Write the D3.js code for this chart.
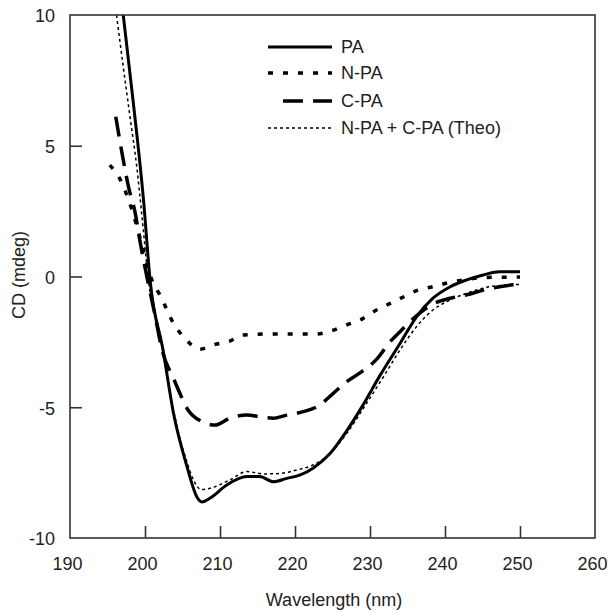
<!DOCTYPE html>
<html><head><meta charset="utf-8">
<script src="https://cdn.jsdelivr.net/npm/d3@7"></script>
<style>body{margin:0;background:#fff}svg{display:block}text{font-family:"Liberation Sans",Arial,sans-serif;fill:#222}</style>
</head><body><svg id="c" width="608" height="613"></svg>
<script>
const xTicks=[190,200,210,220,230,240,250,260];
const yTicks=[-10,-5,0,5,10];
const seriesNames=["PA","N-PA","C-PA","N-PA + C-PA (Theo)"];
const wlPA=[197.1,198.4,199.8,200.7,202.4,203.8,205.6,206.9,207.6,208.7,210.9,213.6,215.3,217.1,218.9,220.7,222.4,224.7,226.9,229.1,231.3,234,236.2,238.4,240.7,242.9,245.1,247.3,250];
const cdPA=[10,6.75,2.93,-0.2,-2.81,-5.23,-7.27,-8.42,-8.62,-8.47,-7.97,-7.65,-7.65,-7.85,-7.72,-7.59,-7.33,-6.76,-5.9,-4.9,-3.8,-2.56,-1.54,-0.83,-0.39,-0.13,0.06,0.18,0.18];
const wlN=[195.3,196.6,198.2,199.8,201,202,203.8,205.3,207.3,209.3,211.3,213.1,216.7,218.9,222.9,224.9,226.9,228.7,230.7,232.7,234.7,236.4,238.4,240.4,242.9,246.2,248.2,250];
const cdN=[4.26,3.76,2.6,1.0,-0.2,-0.71,-1.79,-2.36,-2.78,-2.6,-2.47,-2.24,-2.2,-2.2,-2.2,-2.07,-1.85,-1.66,-1.31,-1.03,-0.75,-0.52,-0.39,-0.24,-0.11,-0.03,-0.03,-0.02];
const wlC=[196.1,197.1,197.8,198.7,199.3,200.1,201.2,202.4,203.8,204.7,205.6,207.6,209.3,211.3,213.6,215.3,217.1,218.9,221.1,223.1,225.1,226.9,228.9,230.9,232.7,234,236.2,238.4,240.7,242.9,245.1,247.3,250];
const cdC=[6.11,4.46,3.43,2.42,1.4,0.2,-1.3,-2.94,-3.9,-4.5,-5.04,-5.55,-5.68,-5.42,-5.3,-5.36,-5.42,-5.3,-5.17,-4.95,-4.47,-4.02,-3.64,-3.16,-2.49,-2.11,-1.5,-1.05,-0.83,-0.7,-0.52,-0.39,-0.29];
const wlT=[196.2,197.1,198,198.9,199.6,200.4,202.4,203.8,205.6,206.5,207.5,208.7,211.3,213.6,215.8,218,220.2,222.4,224.7,226.9,229.1,231.8,234,236.2,238.4,240.7,242.9,246,248.7,250];
const cdT=[10,8.02,6.11,4.2,2.29,0,-2.7,-5.1,-7.1,-7.8,-8.15,-8.1,-7.78,-7.46,-7.55,-7.53,-7.4,-7.21,-6.76,-6.0,-5.05,-3.83,-2.81,-1.92,-1.28,-0.9,-0.64,-0.39,-0.32,-0.3];

const L=70,R=595,T=15,B=538;
const x=d3.scaleLinear().domain([190,260]).range([L,R]);
const y=d3.scaleLinear().domain([-10,10]).range([B,T]);
const svg=d3.select("#c");
svg.append("defs").append("clipPath").attr("id","clip").append("rect")
  .attr("x",L).attr("y",T).attr("width",R-L).attr("height",B-T);

const styles=[
 {w:3,dash:null},
 {w:3.5,dash:"5,10"},
 {w:3.5,dash:"20,10"},
 {w:1.5,dash:"3,3"}
];
const data=[[wlPA,cdPA],[wlN,cdN],[wlC,cdC],[wlT,cdT]];
const line=d3.line().x(d=>x(d[0])).y(d=>y(d[1])).curve(d3.curveMonotoneX);
const g=svg.append("g").attr("clip-path","url(#clip)");
data.forEach((s,i)=>{
  const pts=s[0].map((w,j)=>[w,s[1][j]]);
  g.append("path").attr("d",line(pts)).attr("fill","none").attr("stroke","#000")
   .attr("stroke-width",styles[i].w).attr("stroke-dasharray",styles[i].dash)
   .attr("stroke-linejoin","round");
});

// frame
svg.append("rect").attr("x",L).attr("y",T).attr("width",R-L).attr("height",B-T)
  .attr("fill","none").attr("stroke","#333").attr("stroke-width",1.6);

const fs=18;
// bottom axis
const xa=svg.append("g").attr("transform",`translate(0,${B})`)
 .call(d3.axisBottom(x).tickValues(xTicks).tickSize(-12).tickPadding(19).tickFormat(d=>String(d)));
xa.select(".domain").remove();
xa.selectAll("line").attr("stroke","#333").attr("stroke-width",1.6)
  .attr("display",d=>(d===190||d===260)?"none":null);
xa.selectAll("text").attr("font-size",fs).attr("fill","#222").attr("dx",-3);

const ya=svg.append("g").attr("transform",`translate(${L},0)`)
 .call(d3.axisLeft(y).tickValues(yTicks).tickSize(-12).tickPadding(15).tickFormat(d=>String(d)));
ya.select(".domain").remove();
ya.selectAll("line").attr("stroke","#333").attr("stroke-width",1.6)
  .attr("display",d=>(d===10||d===-10)?"none":null);
ya.selectAll("text").attr("font-size",fs).attr("fill","#222").attr("dy","0.38em");

svg.append("text").attr("x",334).attr("y",606).attr("text-anchor","middle").attr("font-size",fs).text("Wavelength (nm)");
svg.append("text").attr("transform","translate(25,275) rotate(-90)").attr("text-anchor","middle").attr("font-size",fs).text("CD (mdeg)");

// legend
const legY=[47,73,101,128];
const legX0=[268,268,283,268];
seriesNames.forEach((n,i)=>{
  svg.append("line").attr("x1",legX0[i]).attr("x2",332).attr("y1",legY[i]).attr("y2",legY[i])
   .attr("stroke","#000").attr("stroke-width",styles[i].w).attr("stroke-dasharray",styles[i].dash);
  svg.append("text").attr("x",341).attr("y",legY[i]).attr("dy","0.36em").attr("font-size",fs).text(n);
});
</script></body></html>
